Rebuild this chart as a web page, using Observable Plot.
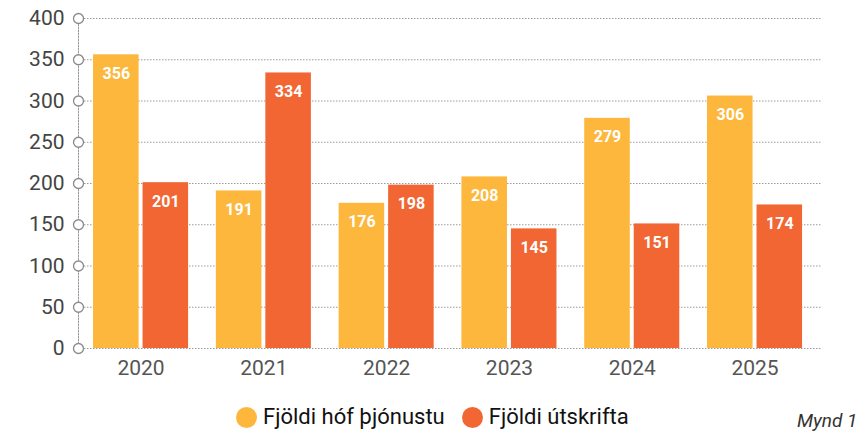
<!DOCTYPE html>
<html>
<head>
<meta charset="utf-8">
<script src="https://cdn.jsdelivr.net/npm/d3@7"></script>
<script src="https://cdn.jsdelivr.net/npm/@observablehq/plot@0.6"></script>
<style>
  body { margin: 0; background: #fff; font-family: Roboto, "Liberation Sans", sans-serif; }
  #wrap { position: relative; width: 859px; height: 432px; overflow: hidden; }
  #legend { position: absolute; left: 236px; top: 404px; display: flex; align-items: center; font-size: 22px; color: #111; line-height: 26px; }
  .item { display: flex; align-items: center; margin-right: 17px; }
  .sw { width: 21px; height: 21px; border-radius: 50%; margin-right: 6px; }
  #caption { position: absolute; left: 797px; top: 411px; font-size: 19px; line-height: 20px; font-style: italic; color: #333; }
</style>
</head>
<body>
<div id="wrap">
  <div id="chart"></div>
  <div id="legend"></div>
  <div id="caption">Mynd 1</div>
</div>
<script>
const years = ["2020", "2021", "2022", "2023", "2024", "2025"];
const seriesNames = ["Fjöldi hóf þjónustu", "Fjöldi útskrifta"];
const hofThjonustu = [356, 191, 176, 208, 279, 306];
const utskrifta = [201, 334, 198, 145, 151, 174];
const yTicks = [0, 50, 100, 150, 200, 250, 300, 350, 400];
const colors = ["#FDB73C", "#F26633"];

const hofRows = years.map((yr, i) => ({year: yr, value: hofThjonustu[i]}));
const utRows = years.map((yr, i) => ({year: yr, value: utskrifta[i]}));

const grid = {stroke: "#9a9a9a", strokeDasharray: "1.5,1.5", strokeWidth: 1};
const labelStyle = {fill: "white", fontWeight: "bold", fontSize: 16, dy: 19};

const chart = Plot.plot({
  width: 859,
  height: 392,
  marginLeft: 78,
  marginRight: 37,
  marginTop: 18,
  marginBottom: 44,
  style: {fontFamily: "Roboto, 'Liberation Sans', sans-serif", background: "#fff"},
  x: {domain: years, paddingInner: 0.226, paddingOuter: 0.1425, align: 0.43, round: false, label: null},
  y: {domain: [0, 400], axis: null},
  marks: [
    Plot.ruleY(yTicks, grid),
    Plot.frame({anchor: "left", ...grid}),
    Plot.barY(hofRows, {x: "year", y: "value", fill: colors[0], insetRight: 49.5}),
    Plot.barY(utRows, {x: "year", y: "value", fill: colors[1], insetLeft: 49.5}),
    Plot.text(hofRows, {x: "year", y: "value", text: d => String(d.value), dx: -24.75, ...labelStyle}),
    Plot.text(utRows, {x: "year", y: "value", text: d => String(d.value), dx: 24.75, ...labelStyle}),
    Plot.dot(yTicks, {y: d => d, frameAnchor: "left", r: 5, fill: "white", stroke: "#8a8a8a", strokeWidth: 1.3}),
    Plot.axisY(yTicks, {tickSize: 0, tickPadding: 14, fontSize: 21, fill: "#444", label: null}),
    Plot.axisX({tickSize: 0, tickPadding: 12, fontSize: 21, fill: "#555", label: null})
  ]
});
document.getElementById("chart").appendChild(chart);

const legend = document.getElementById("legend");
seriesNames.forEach((name, i) => {
  const item = document.createElement("div");
  item.className = "item";
  const sw = document.createElement("span");
  sw.className = "sw";
  sw.style.background = colors[i];
  const t = document.createElement("span");
  t.textContent = name;
  item.appendChild(sw);
  item.appendChild(t);
  legend.appendChild(item);
});
</script>
</body>
</html>
